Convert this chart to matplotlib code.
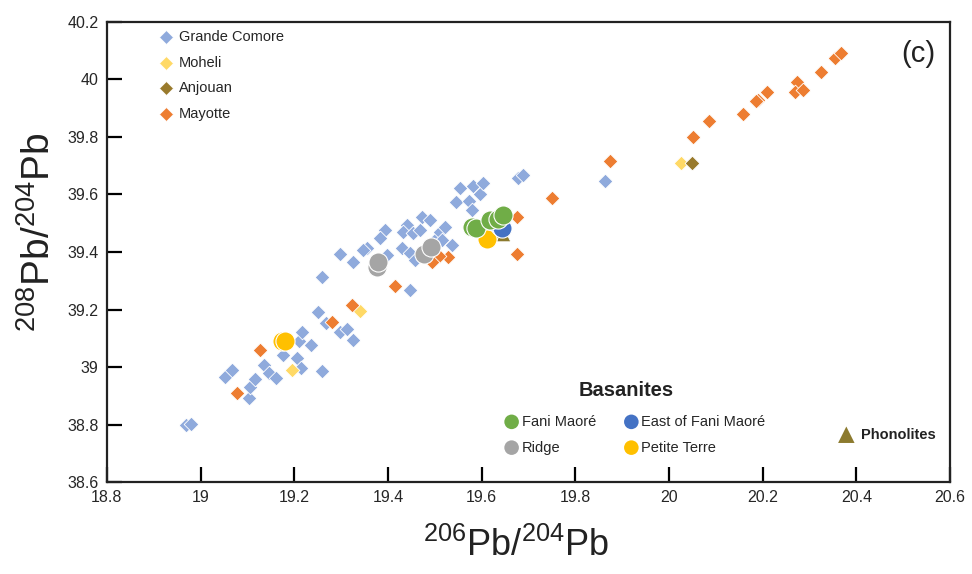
"""Pb isotope plot (208Pb/204Pb vs 206Pb/204Pb) for Comoros lavas, panel (c)."""
import matplotlib
matplotlib.use('Agg')
import matplotlib.pyplot as plt

plt.rcParams['font.family'] = ['Liberation Sans', 'DejaVu Sans']
plt.rcParams['mathtext.fontset'] = 'custom'
plt.rcParams['mathtext.rm'] = 'Liberation Sans'

# island fields (diamonds)
gc_x = [18.969, 18.979, 19.052, 19.067, 19.103, 19.105, 19.116, 19.135, 19.146, 19.161,
        19.176, 19.206, 19.214, 19.210, 19.216, 19.236, 19.259, 19.251, 19.268, 19.298,
        19.313, 19.325, 19.259, 19.298, 19.325, 19.355, 19.347, 19.394, 19.383, 19.398,
        19.430, 19.441, 19.432, 19.447, 19.453, 19.458, 19.468, 19.473, 19.490, 19.505,
        19.511, 19.515, 19.522, 19.537, 19.447, 19.545, 19.554, 19.573, 19.582, 19.596,
        19.603, 19.579, 19.678, 19.688, 19.863]
gc_y = [38.798, 38.801, 38.965, 38.989, 38.892, 38.930, 38.958, 39.006, 38.979, 38.961,
        39.041, 39.031, 38.996, 39.090, 39.121, 39.076, 38.988, 39.191, 39.152, 39.121,
        39.131, 39.093, 39.312, 39.392, 39.364, 39.413, 39.406, 39.475, 39.448, 39.389,
        39.413, 39.493, 39.469, 39.396, 39.465, 39.371, 39.476, 39.521, 39.510, 39.448,
        39.469, 39.441, 39.486, 39.423, 39.267, 39.573, 39.621, 39.577, 39.629, 39.601,
        39.639, 39.545, 39.656, 39.667, 39.646]

moheli_x = [19.340, 19.195, 20.025]
moheli_y = [39.194, 38.989, 39.708]

anjouan_x = [20.049]
anjouan_y = [39.708]

mayotte_x = [19.751, 19.873, 20.052, 20.086, 20.159, 20.191, 20.186, 20.210, 20.273, 20.269,
             20.287, 20.324, 20.355, 20.367, 19.675, 19.675, 19.529, 19.510, 19.493, 19.415,
             19.323, 19.280, 19.127, 19.078]
mayotte_y = [39.586, 39.717, 39.798, 39.856, 39.881, 39.928, 39.924, 39.957, 39.991, 39.957,
             39.962, 40.026, 40.073, 40.090, 39.521, 39.392, 39.381, 39.385, 39.365, 39.281,
             39.215, 39.156, 39.059, 38.909]

# 2018-2019 eruption samples
phono_x = [19.624, 19.646]
phono_y = [39.472, 39.462]

fani_x = [19.579, 19.588, 19.618, 19.635, 19.646]
fani_y = [39.487, 39.482, 39.510, 39.515, 39.528]

east_x = [19.639, 19.643]
east_y = [39.492, 39.482]

ridge_x = [19.377, 19.379, 19.477, 19.492]
ridge_y = [39.347, 39.364, 39.392, 39.416]

pt_x = [19.174, 19.180, 19.611]
pt_y = [39.090, 39.090, 39.444]

c_gc = '#8faadc'
c_mo = '#ffd966'
c_an = '#997a2c'
c_ma = '#ed7d31'
c_fani = '#70ad47'
c_east = '#4472c4'
c_ridge = '#a5a5a5'
c_pt = '#ffc000'
c_phono = '#8c7a2e'

fig = plt.figure(figsize=(9.72, 5.74), dpi=100)
ax = fig.add_axes([0.110, 0.160, 0.8674, 0.802])

dkw = dict(marker='D', s=56, edgecolors='white', linewidths=0.6, zorder=3)
ax.scatter(gc_x, gc_y, color=c_gc, **dkw)
ax.scatter(moheli_x, moheli_y, color=c_mo, **dkw)
ax.scatter(anjouan_x, anjouan_y, color=c_an, **dkw)
ax.scatter(mayotte_x, mayotte_y, color=c_ma, **dkw)

ax.scatter(phono_x, phono_y, marker='^', s=110, color=c_phono, edgecolors='white',
           linewidths=0.6, zorder=4)
ckw = dict(marker='o', s=190, edgecolors='white', linewidths=0.8, zorder=5)
ax.scatter(ridge_x, ridge_y, color=c_ridge, **ckw)
ax.scatter(pt_x, pt_y, color=c_pt, **ckw)
ax.scatter(east_x, east_y, color=c_east, **ckw)
ax.scatter(fani_x, fani_y, color=c_fani, **ckw)

ax.set_xlim(18.8, 20.6)
ax.set_ylim(38.6, 40.2)
ax.set_xticks([18.8, 19, 19.2, 19.4, 19.6, 19.8, 20, 20.2, 20.4, 20.6])
ax.set_xticklabels(['18.8', '19', '19.2', '19.4', '19.6', '19.8', '20', '20.2', '20.4', '20.6'])
ax.set_yticks([38.6, 38.8, 39, 39.2, 39.4, 39.6, 39.8, 40, 40.2])
ax.set_yticklabels(['38.6', '38.8', '39', '39.2', '39.4', '39.6', '39.8', '40', '40.2'])
ax.tick_params(direction='in', length=11, width=1.6, labelsize=11.5,
               labelcolor='#262626', pad=6)
for sp in ax.spines.values():
    sp.set_linewidth(1.6)
    sp.set_color('#222222')

ax.set_xlabel(r'$\mathregular{^{206}Pb/^{204}Pb}$', fontsize=26, color='#222222')
ax.set_ylabel(r'$\mathregular{^{208}Pb/^{204}Pb}$', fontsize=28, color='#222222')
ax.xaxis.set_label_coords(0.485, -0.100)
ax.yaxis.set_label_coords(-0.058, 0.543)

ax.text(0.962, 0.930, '(c)', transform=ax.transAxes, fontsize=21, ha='center', va='center',
        color='#222222')

# island legend, top left
isl = [('Grande Comore', c_gc), ('Moheli', c_mo), ('Anjouan', c_an), ('Mayotte', c_ma)]
for i, (lab, col) in enumerate(isl):
    yy = 0.967 - i * 0.0555
    ax.scatter([0.0697], [yy], transform=ax.transAxes, marker='D', s=50, color=col,
               edgecolors='white', linewidths=0.5, clip_on=False, zorder=6)
    ax.text(0.0851, yy, lab, transform=ax.transAxes, fontsize=10.5, va='center',
            color='#262626')

# basanites legend
ax.text(0.616, 0.199, 'Basanites', transform=ax.transAxes, fontsize=14.5,
        fontweight='bold', ha='center', va='center', color='#222222')
bas = [('Fani Maoré', c_fani, 0.480, 0.131), ('East of Fani Maoré', c_east, 0.622, 0.131),
       ('Ridge', c_ridge, 0.480, 0.075), ('Petite Terre', c_pt, 0.622, 0.075)]
for lab, col, xx, yy in bas:
    ax.scatter([xx], [yy], transform=ax.transAxes, marker='o', s=110, color=col,
               edgecolors='none', zorder=6)
    ax.text(xx + 0.012, yy, lab, transform=ax.transAxes, fontsize=10.5, va='center',
            color='#262626')

ax.scatter([0.877], [0.103], transform=ax.transAxes, marker='^', s=140, color=c_phono,
           edgecolors='none', zorder=6)
ax.text(0.894, 0.103, 'Phonolites', transform=ax.transAxes, fontsize=10.5,
        fontweight='bold', va='center', color='#222222')

fig.savefig('out.png', dpi=100)
